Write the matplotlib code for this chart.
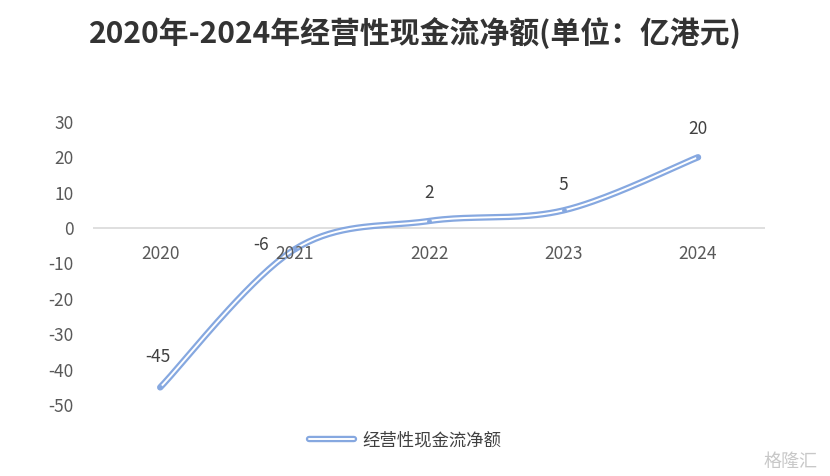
import numpy as np
import matplotlib.pyplot as plt
import matplotlib.patheffects as pe

plt.rcParams['font.family'] = ['Noto Sans CJK SC', 'DejaVu Sans']
plt.rcParams['axes.unicode_minus'] = False

years = ['2020', '2021', '2022', '2023', '2024']
cash_flow = [-45, -6, 2, 5, 20]
label_offsets = [(-2, 22), (-24, 3), (0, 20), (0, 18), (0, 20)]


def smooth(xs, ys, n=40):
    # catmull-rom style smoothing, like excel's smoothed line
    xs = np.asarray(xs, float)
    ys = np.asarray(ys, float)
    px = np.concatenate([[xs[0]], xs, [xs[-1]]])
    py = np.concatenate([[ys[0]], ys, [ys[-1]]])
    out_x, out_y = [], []
    t = np.linspace(0, 1, n)
    for i in range(1, len(px) - 2):
        p0, p1, p2, p3 = (np.array([px[j], py[j]]) for j in range(i - 1, i + 3))
        c1 = p1 + (p2 - p0) / 6
        c2 = p2 - (p3 - p1) / 6
        b = ((1 - t) ** 3)[:, None] * p1 + (3 * (1 - t) ** 2 * t)[:, None] * c1 \
            + (3 * (1 - t) * t ** 2)[:, None] * c2 + (t ** 3)[:, None] * p2
        out_x.extend(b[:, 0])
        out_y.extend(b[:, 1])
    return out_x, out_y


fig = plt.figure(figsize=(8.3, 4.76), dpi=100)
ax = fig.add_axes([0.112, 0.149, 0.810, 0.595])

x = np.arange(len(years))
sx, sy = smooth(x, cash_flow)
blue = '#86A8E0'
ax.plot(sx, sy, color='white', lw=1.4, solid_capstyle='round',
        path_effects=[pe.Stroke(linewidth=4.6, foreground=blue), pe.Normal()],
        label='经营性现金流净额', zorder=3)
ax.scatter(x, cash_flow, s=6, color=blue, zorder=4)

for xi, v, off in zip(x, cash_flow, label_offsets):
    ax.annotate(str(v), (xi, v), xytext=off, textcoords='offset points',
                ha='center', va='center', fontsize=12.5, color='#404040')

ax.axhline(0, color='#D9D9D9', lw=1.2, zorder=1)
for xi, yr in zip(x, years):
    ax.text(xi, -7.2, yr, ha='center', va='center', fontsize=12.5, color='#595959')

ax.set_xlim(-0.5, 4.5)
ax.set_ylim(-50, 30)
ax.set_yticks(range(-50, 31, 10))
ax.set_xticks([])
ax.tick_params(axis='y', length=0, labelsize=12.5, labelcolor='#595959', pad=14)
for s in ax.spines.values():
    s.set_visible(False)

fig.suptitle('2020年-2024年经营性现金流净额(单位：亿港元)', x=0.5, y=0.965,
             fontsize=21.5, fontweight='bold', color='#333333')

fig.legend(loc='center', bbox_to_anchor=(0.488, 0.075), frameon=False,
           fontsize=12.5, handlelength=2.6, handletextpad=0.5, labelcolor='#404040')

fig.text(0.985, 0.03, '格隆汇', ha='right', va='center', fontsize=13, color='#C8C8C8')

fig.savefig('out.png', dpi=100)
